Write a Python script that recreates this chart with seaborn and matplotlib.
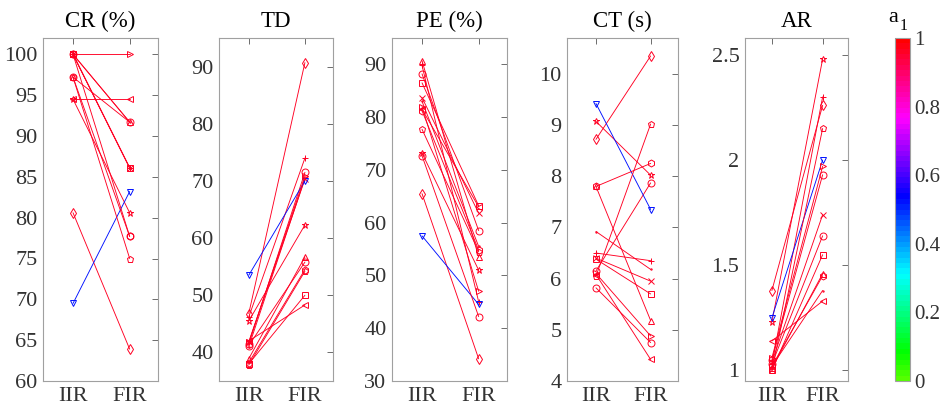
import numpy as np
import pandas as pd
import matplotlib
matplotlib.use("Agg")
import matplotlib.pyplot as plt
from matplotlib.colors import ListedColormap, hsv_to_rgb
import seaborn as sns

sns.set_theme(style="white")
plt.rcParams['font.family'] = ['Liberation Serif', 'DejaVu Serif']

# ---------------- data ----------------
subjects = ["S1", "S2", "S3", "S4", "S5", "S6", "S7", "S8", "S9", "S10", "S11", "S12", "S13", "S14"]
markers = ["o", "+", "*", ".", "x", "s", "d", "^", "v", ">", "<", "p", "h", "o"]
a1 = [0.96, 0.96, 0.96, 0.96, 0.96, 0.96, 0.96, 0.96, 0.52, 0.96, 0.96, 0.96, 0.96, 0.96]
conditions = ["IIR", "FIR"]

cr_iir = [100, 100, 94.5, 100, 100, 100, 80.6, 97.2, 69.5, 100, 94.5, 97.2, 100, 97.2]
cr_fir = [91.7, 86.1, 80.6, 91.7, 86.1, 86.1, 63.9, 91.7, 83.2, 100, 94.5, 75.0, 77.7, 77.7]

td_iir = [41.5, 46.2, 45.5, 41.0, 41.8, 38.0, 46.8, 38.9, 53.5, 41.8, 42.0, 37.8, 38.2, 41.2]
td_fir = [71.5, 74.0, 62.3, 70.5, 70.3, 50.0, 90.7, 56.7, 70.0, 70.8, 48.3, 54.2, 54.5, 55.8]

pe_iir = [88.2, 89.8, 73.2, 83.0, 83.7, 86.5, 65.5, 90.7, 57.5, 82.0, 81.5, 77.7, 81.2, 72.7]
pe_fir = [58.5, 45.0, 51.0, 55.5, 61.8, 63.2, 34.2, 53.5, 44.5, 47.0, 63.0, 54.5, 54.8, 42.2]

ct_iir = [6.15, 6.50, 9.07, 6.92, 6.40, 6.38, 8.72, 7.80, 9.42, 6.10, 6.08, 6.05, 7.80, 5.82]
ct_fir = [7.87, 6.35, 8.02, 6.18, 5.95, 5.70, 10.35, 5.18, 7.35, 4.88, 4.42, 9.02, 8.25, 4.75]

ar_iir = [1.05, 1.03, 1.23, 1.02, 1.04, 1.00, 1.38, 1.01, 1.25, 1.06, 1.14, 1.00, 1.02, 1.03]
ar_fir = [1.93, 2.30, 2.48, 1.38, 1.74, 1.55, 2.26, 1.46, 2.00, 1.97, 1.33, 2.15, 1.45, 1.64]

titles = ["CR (%)", "TD", "PE (%)", "CT (s)", "AR"]
panels = [(cr_iir, cr_fir), (td_iir, td_fir), (pe_iir, pe_fir), (ct_iir, ct_fir), (ar_iir, ar_fir)]
ylims = [(60, 102), (35, 95), (30, 95), (4, 10.7), (0.95, 2.58)]
yticks = [list(range(60, 101, 5)), list(range(40, 91, 10)), list(range(30, 91, 10)),
          list(range(4, 11)), [1, 1.5, 2, 2.5]]
cbar_ticks = [0, 0.2, 0.4, 0.6, 0.8, 1]

# ---------------- colormap ----------------
n = 64
hues = (100 + 260 * np.linspace(0, 1, n)) / 360.0 % 1.0
cols = hsv_to_rgb(np.stack([hues, np.ones(n), np.ones(n)], axis=1))
cmap = ListedColormap(cols)

# ---------------- layout ----------------
W, H = 943, 409
fig = plt.figure(figsize=(W / 100, H / 100), dpi=100)
xr = [(43, 158), (219, 333), (392, 507), (567, 678), (745, 848)]
top, bot = 38, 381
tick_color = "#333333"
spine_color = "#a0a0a0"

for i, ((iir, fir), title) in enumerate(zip(panels, titles)):
    l, r = xr[i]
    ax = fig.add_axes([l / W, (H - bot) / H, (r - l) / W, (bot - top) / H])
    for s, m, a, y0, y1 in zip(subjects, markers, a1, iir, fir):
        df = pd.DataFrame({"x": [1, 2], "value": [y0, y1]})
        c = cmap(a)
        sns.lineplot(data=df, x="x", y="value", color=c, marker=m,
                     markersize=2.0 if m == "." else 5.0,
                     markeredgecolor=c, markerfacecolor="none",
                     markeredgewidth=0.7, linewidth=0.65,
                     estimator=None, sort=False, legend=False, ax=ax)
    ax.set_xlim(0.47, 2.5)
    ax.set_ylim(*ylims[i])
    ax.set_xticks([1, 2])
    ax.set_xticklabels(conditions)
    ax.set_yticks(yticks[i])
    ax.set_yticklabels([f"{t:g}" for t in yticks[i]])
    ax.set_xlabel("")
    ax.set_ylabel("")
    ax.set_title(title, fontsize=16.5, color="black", pad=8)
    ax.tick_params(direction="in", length=4, width=0.6, top=True, right=True,
                   labelsize=16, colors=tick_color, color="#555555", pad=4)
    for sp in ax.spines.values():
        sp.set_color(spine_color)
        sp.set_linewidth(0.8)

# colorbar
cax = fig.add_axes([895 / W, (H - bot) / H, 15 / W, (bot - top) / H])
sm = matplotlib.cm.ScalarMappable(cmap=cmap, norm=matplotlib.colors.Normalize(0, 1))
cb = fig.colorbar(sm, cax=cax, ticks=cbar_ticks)
cb.ax.set_yticklabels([f"{t:g}" for t in cbar_ticks])
cb.ax.tick_params(direction="in", length=3, width=0.6, labelsize=15, colors=tick_color,
                  color="#555555", pad=3)
cb.outline.set_edgecolor(spine_color)
cb.outline.set_linewidth(0.8)
fig.text(888 / W, 1 - 22 / H, "a", fontsize=16, color="black", va="baseline")
fig.text(900 / W, 1 - 30 / H, "1", fontsize=11.5, color="black", va="baseline")

fig.savefig("out.png", dpi=100)
